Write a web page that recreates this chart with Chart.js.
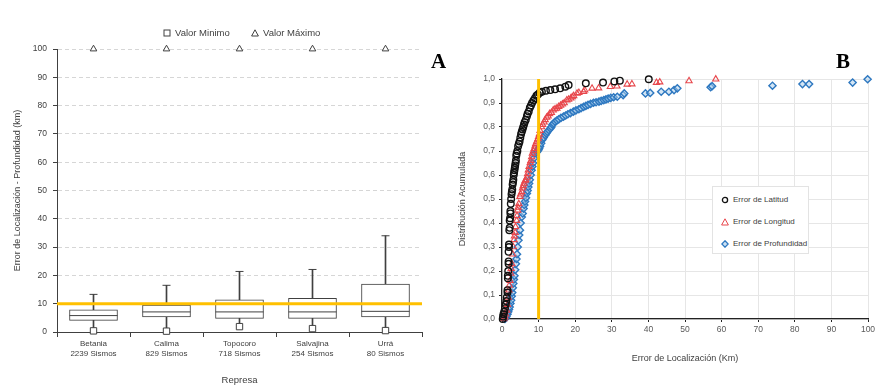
<!DOCTYPE html>
<html><head><meta charset="utf-8">
<script src="https://cdn.jsdelivr.net/npm/chart.js@4.4.1/dist/chart.umd.min.js"></script>
<style>
html,body{margin:0;padding:0;background:#fff;width:889px;height:386px;overflow:hidden;}
body{position:relative;font-family:'Liberation Sans',Arial,sans-serif;}
#wrapA{position:absolute;left:0;top:0;width:500px;height:386px;}
#wrapB{position:absolute;left:450px;top:0;width:439px;height:386px;}
.panel{position:absolute;font-family:'Liberation Serif','Times New Roman',serif;font-weight:bold;font-size:21px;color:#000;line-height:1;}
.leg{position:absolute;font-size:9.5px;color:#404040;white-space:nowrap;display:flex;align-items:center;}
.leg svg{margin-right:4px;}
#legB{position:absolute;left:712px;top:186px;width:95px;height:66px;border:1px solid #e3e3e3;background:#fff;}
#legB .leg{font-size:8px;color:#404040;}
</style></head>
<body>
<div id="wrapA"><canvas id="cA" width="500" height="386"></canvas></div>
<div id="wrapB"><canvas id="cB" width="439" height="386"></canvas></div>
<div id="legA"></div>
<div id="legB"></div>
<div class="panel" style="left:431px;top:51px;">A</div>
<div class="panel" style="left:836px;top:51px;">B</div>
<script>
// ---------- Panel A data ----------
const categories = ['Betania','Calima','Topocoro','Salvajina','Urrá'];
const sismos = ['2239 Sismos','829 Sismos','718 Sismos','254 Sismos','80 Sismos'];
const minVals = [0.4, 0.3, 1.9, 1.2, 0.5];
const q1Vals = [4.1, 5.3, 4.8, 4.8, 5.3];
const medianVals = [5.8, 7.1, 7.1, 7.1, 7.3];
const q3Vals = [7.8, 9.5, 11.4, 11.9, 16.9];
const whiskerTopVals = [13.3, 16.5, 21.4, 22.1, 34.0];
const maxVals = [100, 100, 100, 100, 100];
const limitA = 10;

// ---------- Panel B data ----------
const latX = [0.2,0.3,0.4,0.6,0.8,1.0,1.2,1.3,1.5,1.5,1.6,1.6,1.7,1.8,1.8,1.8,1.9,1.9,2.0,2.1,2.1,2.2,2.3,2.3,2.4,2.5,2.6,2.7,2.8,2.9,3.0,3.1,3.2,3.3,3.4,3.5,3.6,3.7,3.8,3.9,4.0,4.2,4.4,4.6,4.8,5.0,5.2,5.4,5.6,5.8,6.0,6.2,6.5,6.8,7.0,7.3,7.6,7.9,8.2,8.6,9.0,9.4,9.8,10.3,10.9,12.0,13.2,14.5,15.9,17.3,18.2,22.9,27.6,30.7,32.2,40.1];
const latY = [0.0,0.01,0.02,0.03,0.045,0.06,0.075,0.09,0.11,0.12,0.17,0.18,0.2,0.23,0.24,0.28,0.30,0.31,0.37,0.38,0.41,0.42,0.44,0.45,0.48,0.50,0.52,0.53,0.54,0.56,0.57,0.58,0.60,0.61,0.62,0.63,0.64,0.65,0.66,0.68,0.69,0.70,0.72,0.73,0.74,0.755,0.77,0.78,0.79,0.80,0.81,0.82,0.83,0.845,0.855,0.865,0.88,0.89,0.90,0.91,0.92,0.93,0.935,0.943,0.947,0.951,0.954,0.957,0.961,0.968,0.975,0.982,0.985,0.99,0.993,0.999];
const lonX = [0.5,0.8,1.0,1.3,1.5,1.7,1.9,2.0,2.2,2.4,2.5,2.7,2.9,3.1,3.3,3.4,3.6,3.7,4.0,4.1,4.3,4.4,4.6,4.9,5.1,5.4,5.6,5.8,6.0,6.3,6.5,6.8,7.0,7.2,7.4,7.7,7.9,8.1,8.3,8.6,8.8,9.0,9.2,9.5,9.8,10.0,10.2,10.4,10.8,11.1,11.5,11.8,12.2,12.6,13.0,13.5,14.0,14.5,15.0,15.5,16.0,16.5,17.0,17.7,18.2,18.8,19.2,19.6,20.5,21.0,22.3,22.6,24.6,26.4,29.6,31.4,34.2,35.5,42.2,43.1,51.1,58.4];
const lonY = [0.0,0.008,0.02,0.036,0.06,0.09,0.12,0.14,0.16,0.19,0.21,0.23,0.27,0.30,0.33,0.345,0.36,0.384,0.41,0.43,0.453,0.465,0.48,0.51,0.52,0.53,0.545,0.555,0.565,0.575,0.58,0.59,0.605,0.62,0.635,0.65,0.66,0.675,0.69,0.70,0.71,0.72,0.73,0.74,0.75,0.76,0.77,0.785,0.80,0.81,0.82,0.83,0.84,0.845,0.855,0.86,0.87,0.875,0.878,0.885,0.89,0.895,0.90,0.912,0.915,0.92,0.925,0.93,0.94,0.943,0.947,0.954,0.961,0.962,0.968,0.970,0.978,0.979,0.985,0.987,0.992,0.999];
const depX = [0.8,1.0,1.2,1.5,1.7,1.9,2.1,2.3,2.5,2.65,2.8,2.95,3.1,3.25,3.4,3.6,3.8,3.95,4.1,4.3,4.5,4.7,4.9,5.1,5.4,5.65,5.9,6.1,6.3,6.55,6.8,7.0,7.2,7.4,7.6,7.85,8.1,8.3,8.5,8.75,9.0,9.5,9.7,10.0,10.2,10.4,10.7,10.9,11.1,11.4,11.8,12.1,12.4,12.8,13.2,13.5,13.8,14.1,14.5,15.0,15.5,16.1,16.8,17.4,18.0,18.7,19.5,20.2,21.0,21.6,22.3,22.9,23.5,24.2,25.0,25.7,26.5,27.1,27.8,28.4,29.0,29.7,30.5,31.5,33.1,33.4,39.2,40.5,43.5,45.6,47.0,47.9,57.0,57.4,73.9,82.1,83.9,95.8,99.9];
const depY = [0.0,0.005,0.01,0.02,0.03,0.04,0.05,0.065,0.078,0.095,0.11,0.13,0.148,0.165,0.18,0.205,0.23,0.25,0.27,0.30,0.328,0.35,0.37,0.40,0.425,0.44,0.46,0.475,0.49,0.505,0.523,0.535,0.55,0.565,0.58,0.60,0.62,0.635,0.65,0.67,0.69,0.695,0.70,0.705,0.712,0.72,0.732,0.745,0.75,0.756,0.766,0.773,0.78,0.787,0.794,0.80,0.81,0.815,0.822,0.827,0.832,0.838,0.843,0.848,0.853,0.858,0.864,0.869,0.874,0.879,0.884,0.888,0.892,0.896,0.901,0.903,0.906,0.909,0.912,0.915,0.918,0.921,0.924,0.926,0.933,0.94,0.94,0.942,0.947,0.947,0.954,0.961,0.966,0.970,0.972,0.979,0.979,0.985,0.999];
const limitB = 10;
const yTickLabelsB = ['0,0','0,1','0,2','0,3','0,4','0,5','0,6','0,7','0,8','0,9','1,0'];

const FONT = "'Liberation Sans',Arial,sans-serif";
const GOLD = '#FFC000';
const DARK = '#404040';

// ---------- Chart A ----------
const chartA = new Chart(document.getElementById('cA'), {
  type: 'bar',
  data: {
    labels: categories.map((c, i) => [c, sismos[i]]),
    datasets: [
      { label: 'Bigote', data: minVals.map((v, i) => [v, whiskerTopVals[i]]), backgroundColor: DARK,
        barThickness: 1, grouped: false, order: 10, borderWidth: 0 },
      { label: 'Caja', data: q1Vals.map((v, i) => [v, q3Vals[i]]), backgroundColor: '#fff',
        borderColor: DARK, borderWidth: 1, borderSkipped: false, barThickness: 48, grouped: false, order: 8 },
      { type: 'line', label: 'Mediana', data: medianVals, showLine: false, pointStyle: 'line',
        pointRadius: 24, pointBorderWidth: 1, pointBorderColor: DARK, order: 6 },
      { type: 'line', label: 'Tope', data: whiskerTopVals, showLine: false, pointStyle: 'line',
        pointRadius: 4, pointBorderWidth: 1, pointBorderColor: DARK, order: 6 },
      { type: 'line', label: 'Valor Minimo', legendItem: true, data: minVals, showLine: false, pointStyle: 'rect',
        pointRadius: 4.5, pointBorderWidth: 1, pointBorderColor: DARK, pointBackgroundColor: '#fff', order: 4, clip: false },
      { type: 'line', label: 'Valor Máximo', legendItem: true, data: maxVals, showLine: false, pointStyle: 'triangle',
        pointRadius: 3.8, pointBorderWidth: 1, pointBorderColor: DARK, pointBackgroundColor: '#fff', order: 4, clip: false },
      { type: 'line', label: 'Límite', xAxisID: 'x2', data: [{x: 0, y: limitA}, {x: 1, y: limitA}],
        borderColor: GOLD, borderWidth: 3, pointRadius: 0, order: 0 }
    ]
  },
  options: {
    responsive: false, animation: false, events: [],
    layout: { padding: { top: 49, right: 78, bottom: 0, left: 0 } },
    plugins: { legend: { display: false }, tooltip: { enabled: false } },
    scales: {
      x: {
        type: 'category', offset: true,
        grid: { offset: true, drawOnChartArea: false, drawTicks: true, tickLength: 5, color: DARK },
        border: { color: DARK, width: 1 },
        ticks: { color: DARK, font: { family: FONT, size: 8, lineHeight: 1.25 }, padding: 2, maxRotation: 0 },
        title: { display: true, text: 'Represa', color: DARK, font: { family: FONT, size: 9.5 }, padding: { top: 4, bottom: 0 } },
        afterFit: s => { s.height = 54; }
      },
      x2: { type: 'linear', min: 0, max: 1, display: false, offset: false },
      y: {
        min: 0, max: 100,
        ticks: { stepSize: 10, color: DARK, font: { family: FONT, size: 8.5 }, padding: 6 },
        grid: { color: '#d6d6d6', tickColor: DARK, tickLength: 4 },
        border: { color: DARK, width: 1, dash: [4, 3] },
        title: { display: true, text: 'Error de Localización - Profundidad (km)', color: DARK,
          font: { family: FONT, size: 9 }, padding: { top: 12, bottom: 0 } },
        afterFit: s => { s.width = 57; }
      }
    }
  }
});

// ---------- Chart B ----------
const zip = (xs, ys) => xs.map((x, i) => ({ x: x, y: ys[i] }));
const chartB = new Chart(document.getElementById('cB'), {
  type: 'scatter',
  data: {
    datasets: [
      { label: 'Error de Latitud', data: zip(latX, latY), pointStyle: 'circle', pointRadius: 3.3,
        borderColor: '#111', backgroundColor: 'rgba(255,255,255,0)', borderWidth: 1.4, order: 1, sym: 'circle', clip: false },
      { label: 'Error de Longitud', data: zip(lonX, lonY), pointStyle: 'triangle', pointRadius: 3.6,
        borderColor: '#e8474c', backgroundColor: 'rgba(255,255,255,0)', borderWidth: 1.1, order: 2, sym: 'triangle', clip: false },
      { label: 'Error de Profundidad', data: zip(depX, depY), pointStyle: 'rectRot', pointRadius: 3.6,
        borderColor: '#2e78c0', backgroundColor: 'rgba(170,205,235,0.5)', borderWidth: 1.4, order: 3, sym: 'diamond', clip: false },
      { type: 'line', label: 'Límite', data: [{x: limitB, y: 0}, {x: limitB, y: 1}], borderColor: GOLD,
        borderWidth: 3, pointRadius: 0, order: 0, noLegend: true }
    ]
  },
  options: {
    responsive: false, animation: false, events: [],
    layout: { padding: { top: 79, right: 21, bottom: 22, left: 0 } },
    plugins: { legend: { display: false }, tooltip: { enabled: false } },
    scales: {
      x: {
        type: 'linear', min: 0, max: 100,
        ticks: { stepSize: 10, color: '#595959', font: { family: FONT, size: 8.5 }, padding: 3 },
        grid: { color: '#e6e6e6', tickColor: '#222', tickLength: 3 },
        border: { color: '#222', width: 1.3 },
        title: { display: true, text: 'Error de Localización (Km)', color: '#404040',
          font: { family: FONT, size: 9 }, padding: { top: 10, bottom: 0 } },
        afterFit: s => { s.height = 45; }
      },
      y: {
        min: 0, max: 1,
        ticks: { stepSize: 0.1, color: '#595959', font: { family: FONT, size: 8.5 }, padding: 4,
          callback: (v, i) => yTickLabelsB[i] },
        grid: { color: '#e6e6e6', tickColor: '#222', tickLength: 3 },
        border: { color: '#222', width: 1.3 },
        title: { display: true, text: 'Distribución Acumulada', color: '#404040',
          font: { family: FONT, size: 9 }, padding: { top: 7, bottom: 0 } },
        afterFit: s => { s.width = 52; }
      }
    }
  }
});

// ---------- HTML legends built from the datasets ----------
function symbolSVG(kind, stroke, fill) {
  let shape = '';
  if (kind === 'rect') shape = `<rect x="1" y="1" width="6" height="6" fill="${fill}" stroke="${stroke}" stroke-width="1"/>`;
  if (kind === 'triangle') shape = `<polygon points="4,0.8 7.4,7 0.6,7" fill="${fill}" stroke="${stroke}" stroke-width="1"/>`;
  if (kind === 'circle') shape = `<circle cx="4" cy="4" r="2.6" fill="none" stroke="${stroke}" stroke-width="1.3"/>`;
  if (kind === 'diamond') shape = `<polygon points="4,0.8 7.2,4 4,7.2 0.8,4" fill="${fill}" stroke="${stroke}" stroke-width="1.3"/>`;
  return `<svg width="8" height="8" viewBox="0 0 8 8">${shape}</svg>`;
}
const legA = document.getElementById('legA');
const legAPos = [[163, 27], [251, 27]];
chartA.data.datasets.filter(d => d.legendItem).forEach((d, i) => {
  const el = document.createElement('div');
  el.className = 'leg';
  el.style.left = legAPos[i][0] + 'px'; el.style.top = legAPos[i][1] + 'px';
  el.innerHTML = symbolSVG(d.pointStyle, DARK, '#fff') + '<span>' + d.label + '</span>';
  legA.appendChild(el);
});
const legB = document.getElementById('legB');
chartB.data.datasets.filter(d => !d.noLegend).forEach((d, i) => {
  const el = document.createElement('div');
  el.className = 'leg';
  el.style.left = '8px'; el.style.top = (8 + i * 22) + 'px';
  el.innerHTML = symbolSVG(d.sym, d.borderColor, d.sym === 'diamond' ? 'rgba(170,205,235,0.6)' : 'none') + '<span>' + d.label + '</span>';
  legB.appendChild(el);
});
</script>
</body></html>
